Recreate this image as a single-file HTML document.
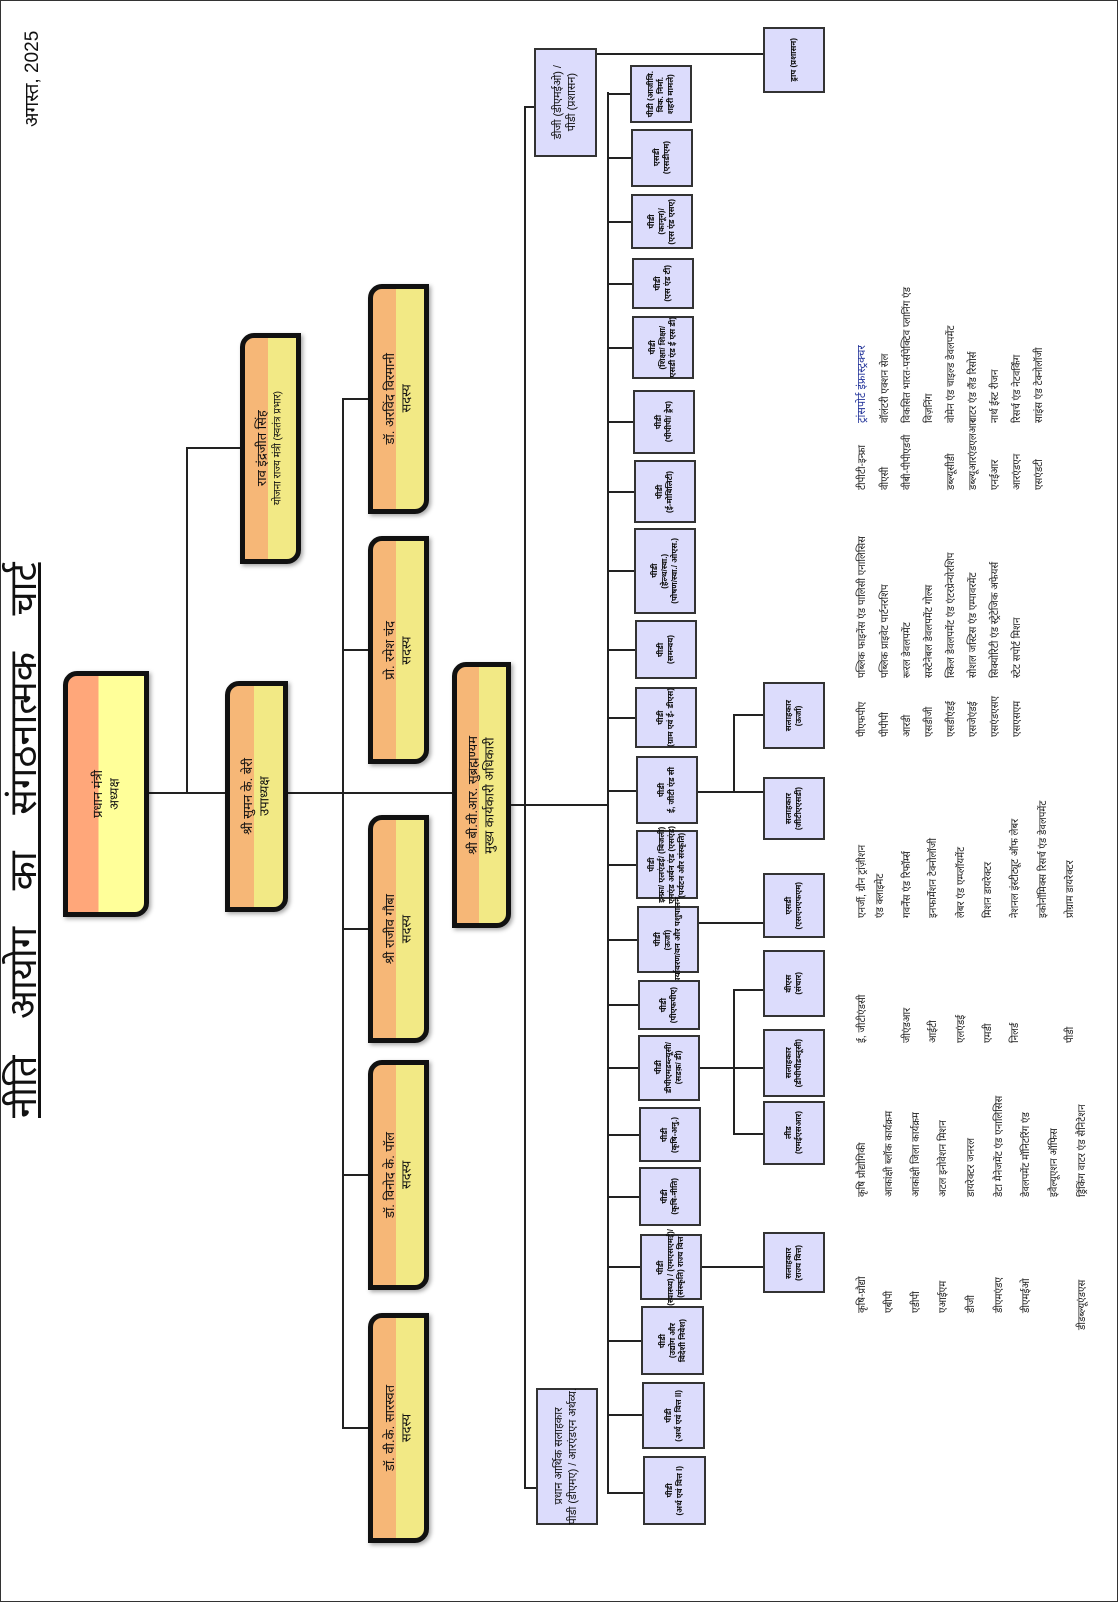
<!DOCTYPE html>
<html><head><meta charset="utf-8">
<style>
html,body{margin:0;padding:0;background:#fff;}
body{width:1119px;height:1603px;position:relative;overflow:hidden;font-family:"Liberation Sans","Noto Sans Devanagari","Lohit Devanagari","Mangal","FreeSans",sans-serif;color:#111;}
.frame{position:absolute;left:0;top:0;width:1116px;height:1600px;border:1.5px solid #333;}
.bx{position:absolute;display:flex;align-items:center;justify-content:center;box-sizing:border-box;}
.t{writing-mode:vertical-rl;transform:rotate(180deg);text-align:center;line-height:1.25;white-space:nowrap;}
.o{border:5px solid #111;border-radius:14px 0 14px 0;background:linear-gradient(to right,#f6b777 0 45%,#f2e985 45%);box-shadow:2px 2px 4px rgba(0,0,0,.35);font-size:13px;}
.b{border:2px solid #333;background:#dcdcfc;font-size:8px;font-weight:bold;}
.l{position:absolute;background:#222;}
.r{position:absolute;transform-origin:0 0;transform:rotate(-90deg);white-space:nowrap;font-size:10px;line-height:11px;color:#222;}
</style></head><body>
<div class="frame"></div>

<!-- Title & date -->
<div class="r" style="left:4px;top:1118px;font-size:38px;line-height:40px;word-spacing:26px;text-decoration:underline;color:#111;">नीति आयोग का संगठनात्मक चार्ट</div>
<div class="r" style="left:22px;top:127px;font-size:19px;line-height:21px;color:#111;">अगस्त, 2025</div>

<!-- connectors top tree -->
<div class="l" style="left:149px;top:792px;width:303px;height:2px;"></div>
<div class="l" style="left:186px;top:448px;width:2px;height:346px;"></div>
<div class="l" style="left:186px;top:447px;width:54px;height:2px;"></div>
<div class="l" style="left:342px;top:399px;width:2px;height:1030px;"></div>
<div class="l" style="left:342px;top:398px;width:26px;height:2px;"></div>
<div class="l" style="left:342px;top:649px;width:26px;height:2px;"></div>
<div class="l" style="left:342px;top:928px;width:26px;height:2px;"></div>
<div class="l" style="left:342px;top:1174px;width:26px;height:2px;"></div>
<div class="l" style="left:342px;top:1427px;width:26px;height:2px;"></div>

<!-- orange boxes -->
<div class="bx o" style="left:63px;top:671px;width:86px;height:246px;background:linear-gradient(to right,#ffa77a 0 40%,#ffff99 40%);"><div class="t">प्रधान मंत्री<br>अध्यक्ष</div></div>
<div class="bx o" style="left:225px;top:681px;width:63px;height:231px;"><div class="t">श्री सुमन के. बेरी<br>उपाध्यक्ष</div></div>
<div class="bx o" style="left:240px;top:333px;width:61px;height:231px;"><div class="t">राव इंद्रजीत सिंह<br><span style="font-size:10px">योजना राज्य मंत्री (स्वतंत्र प्रभार)</span></div></div>
<div class="bx o" style="left:368px;top:284px;width:61px;height:230px;"><div class="t">डॉ. अरविंद विरमानी<br>सदस्य</div></div>
<div class="bx o" style="left:368px;top:536px;width:61px;height:228px;"><div class="t">प्रो. रमेश चंद<br>सदस्य</div></div>
<div class="bx o" style="left:368px;top:815px;width:61px;height:228px;"><div class="t">श्री राजीव गौबा<br>सदस्य</div></div>
<div class="bx o" style="left:368px;top:1060px;width:61px;height:230px;"><div class="t">डॉ. विनोद के. पॉल<br>सदस्य</div></div>
<div class="bx o" style="left:368px;top:1313px;width:61px;height:230px;"><div class="t">डॉ. वी.के. सारस्वत<br>सदस्य</div></div>
<div class="bx o" style="left:452px;top:662px;width:59px;height:266px;"><div class="t">श्री बी.वी.आर. सुब्रह्मण्यम<br>मुख्य कार्यकारी अधिकारी</div></div>

<!-- CEO connectors -->
<div class="l" style="left:511px;top:804px;width:98px;height:2px;"></div>
<div class="l" style="left:524px;top:107px;width:2px;height:1382px;"></div>
<div class="l" style="left:524px;top:106px;width:11px;height:2px;"></div>
<div class="l" style="left:524px;top:1487px;width:12px;height:2px;"></div>
<div class="l" style="left:597px;top:53px;width:166px;height:2px;"></div>
<div class="l" style="left:607px;top:92px;width:2px;height:1402px;"></div>

<div class="bx b" style="left:534px;top:48px;width:63px;height:109px;font-size:11px;font-weight:normal;"><div class="t">डीजी (डीएमईओ) /<br>पीडी (प्रशासन)</div></div>
<div class="bx b" style="left:763px;top:27px;width:62px;height:66px;"><div class="t">ड्राप (प्रशासन)</div></div>
<div class="bx b" style="left:536px;top:1388px;width:62px;height:137px;font-size:11px;font-weight:normal;"><div class="t">प्रधान आर्थिक सलाहकार<br>पीडी (डीएमए) / आरएंडएन अर्थव्य.</div></div>

<!-- column boxes -->
<div class="l" style="left:607px;top:93px;width:24px;height:2px;"></div>
<div class="bx b" style="left:630px;top:65px;width:62px;height:58px;"><div class="t">पीडी (आजीवि.<br>विक. निर्मा.<br>शहरी मामले)</div></div>
<div class="l" style="left:607px;top:157px;width:24px;height:2px;"></div>
<div class="bx b" style="left:631px;top:129px;width:62px;height:58px;"><div class="t">एसडी<br>(एसडीएम)</div></div>
<div class="l" style="left:607px;top:221px;width:25px;height:2px;"></div>
<div class="bx b" style="left:631px;top:194px;width:62px;height:55px;"><div class="t">पीडी<br>(कानून)/<br>(एस एंड एसए)</div></div>
<div class="l" style="left:607px;top:283px;width:25px;height:2px;"></div>
<div class="bx b" style="left:632px;top:258px;width:62px;height:51px;"><div class="t">पीडी<br>(एस एंड टी)</div></div>
<div class="l" style="left:607px;top:347px;width:26px;height:2px;"></div>
<div class="bx b" style="left:632px;top:316px;width:62px;height:63px;"><div class="t">पीडी<br>(शिक्षा/ शिक्षा/<br>एसडी एंड ई एस डी)</div></div>
<div class="l" style="left:607px;top:421px;width:26px;height:2px;"></div>
<div class="bx b" style="left:633px;top:390px;width:62px;height:64px;"><div class="t">पीडी<br>(पीपीपी/ ड्रेप)</div></div>
<div class="l" style="left:607px;top:491px;width:27px;height:2px;"></div>
<div class="bx b" style="left:634px;top:460px;width:62px;height:63px;"><div class="t">पीडी<br>(ई-मोबिलिटी)</div></div>
<div class="l" style="left:607px;top:570px;width:27px;height:2px;"></div>
<div class="bx b" style="left:634px;top:528px;width:62px;height:86px;"><div class="t">पीडी<br>(हेल्थ/स्वा.)<br>(पोषण/स्वा./ ओएस.)</div></div>
<div class="l" style="left:607px;top:649px;width:28px;height:2px;"></div>
<div class="bx b" style="left:635px;top:620px;width:62px;height:59px;"><div class="t">पीडी<br>(समन्वय)</div></div>
<div class="l" style="left:607px;top:717px;width:28px;height:2px;"></div>
<div class="bx b" style="left:635px;top:687px;width:62px;height:61px;"><div class="t">पीडी<br>(ग्राम एवं ई- डीएस)</div></div>
<div class="l" style="left:607px;top:790px;width:29px;height:2px;"></div>
<div class="bx b" style="left:636px;top:756px;width:62px;height:68px;"><div class="t">पीडी<br>ई, जीटी एंड सी</div></div>
<div class="l" style="left:607px;top:864px;width:29px;height:2px;"></div>
<div class="bx b" style="left:636px;top:830px;width:62px;height:69px;"><div class="t">पीडी<br>इन्फ्रा/ एलएंडई/ (बिजली)<br>एमएंड अर्बन एंड (एसएंड)<br>(पर्यटन और संस्कृति)</div></div>
<div class="l" style="left:607px;top:939px;width:30px;height:2px;"></div>
<div class="bx b" style="left:637px;top:906px;width:62px;height:67px;"><div class="t">पीडी<br>(ऊर्जा)<br>पर्यावरण/वन और पशुपालन</div></div>
<div class="l" style="left:607px;top:1004px;width:31px;height:2px;"></div>
<div class="bx b" style="left:638px;top:980px;width:62px;height:50px;"><div class="t">पीडी<br>(पीएफपीए)</div></div>
<div class="l" style="left:607px;top:1067px;width:31px;height:2px;"></div>
<div class="bx b" style="left:638px;top:1035px;width:62px;height:66px;"><div class="t">पीडी<br>डीपीएमडब्ल्यूसी/<br>(सडक़/ डी)</div></div>
<div class="l" style="left:607px;top:1134px;width:32px;height:2px;"></div>
<div class="bx b" style="left:639px;top:1107px;width:62px;height:55px;"><div class="t">पीडी<br>(कृषि-अनु.)</div></div>
<div class="l" style="left:607px;top:1196px;width:32px;height:2px;"></div>
<div class="bx b" style="left:639px;top:1167px;width:62px;height:59px;"><div class="t">पीडी<br>(कृषि-नीति)</div></div>
<div class="l" style="left:607px;top:1266px;width:33px;height:2px;"></div>
<div class="bx b" style="left:640px;top:1234px;width:62px;height:66px;"><div class="t">पीडी<br>(स्वास्थ्य) / (एमएसएमई)/<br>(संस्कृति) राज्य वित्त</div></div>
<div class="l" style="left:607px;top:1340px;width:34px;height:2px;"></div>
<div class="bx b" style="left:641px;top:1306px;width:63px;height:69px;"><div class="t">पीडी<br>(उद्योग और<br>विदेशी निवेश)</div></div>
<div class="l" style="left:607px;top:1414px;width:35px;height:2px;"></div>
<div class="bx b" style="left:642px;top:1382px;width:63px;height:67px;"><div class="t">पीडी<br>(अर्थ एवं वित्त II)</div></div>
<div class="l" style="left:607px;top:1492px;width:36px;height:2px;"></div>
<div class="bx b" style="left:643px;top:1456px;width:63px;height:69px;"><div class="t">पीडी<br>(अर्थ एवं वित्त I)</div></div>

<!-- right children -->
<div class="l" style="left:698px;top:791px;width:65px;height:2px;"></div>
<div class="l" style="left:733px;top:715px;width:2px;height:77px;"></div>
<div class="l" style="left:733px;top:714px;width:30px;height:2px;"></div>
<div class="bx b" style="left:763px;top:682px;width:62px;height:67px;"><div class="t">सलाहकार<br>(ऊर्जा)</div></div>
<div class="bx b" style="left:763px;top:777px;width:62px;height:63px;"><div class="t">सलाहकार<br>(जीटीएएसडी)</div></div>

<div class="l" style="left:699px;top:922px;width:64px;height:2px;"></div>
<div class="bx b" style="left:763px;top:873px;width:62px;height:65px;"><div class="t">एसडी<br>(एसएनएफएम)</div></div>

<div class="l" style="left:700px;top:1067px;width:63px;height:2px;"></div>
<div class="l" style="left:733px;top:990px;width:2px;height:144px;"></div>
<div class="l" style="left:733px;top:989px;width:30px;height:2px;"></div>
<div class="l" style="left:733px;top:1133px;width:30px;height:2px;"></div>
<div class="bx b" style="left:763px;top:950px;width:62px;height:67px;"><div class="t">वीएस<br>(संचार)</div></div>
<div class="bx b" style="left:763px;top:1029px;width:62px;height:68px;"><div class="t">सलाहकार<br>(डीपीपीडब्लूसी)</div></div>
<div class="bx b" style="left:763px;top:1101px;width:62px;height:64px;"><div class="t">लीड<br>(एमईएसआर)</div></div>

<div class="l" style="left:702px;top:1266px;width:61px;height:2px;"></div>
<div class="bx b" style="left:763px;top:1232px;width:62px;height:61px;"><div class="t">सलाहकार<br>(राज्य वित्त)</div></div>

<!-- Legend group 1 -->
<div class="r" style="left:857px;top:1313px;">कृषि-प्रौद्यो</div>
<div class="r" style="left:884px;top:1313px;">एबीपी</div>
<div class="r" style="left:911px;top:1313px;">एडीपी</div>
<div class="r" style="left:938px;top:1313px;">एआईएम</div>
<div class="r" style="left:966px;top:1313px;">डीजी</div>
<div class="r" style="left:994px;top:1313px;">डीएमएंडए</div>
<div class="r" style="left:1021px;top:1313px;">डीएमईओ</div>
<div class="r" style="left:1077px;top:1330px;">डीडब्ल्यूएंडएस</div>
<div class="r" style="left:857px;top:1197px;">कृषि प्रौद्योगिकी</div>
<div class="r" style="left:884px;top:1197px;">आकांक्षी ब्लॉक कार्यक्रम</div>
<div class="r" style="left:911px;top:1197px;">आकांक्षी जिला कार्यक्रम</div>
<div class="r" style="left:938px;top:1197px;">अटल इनोवेशन मिशन</div>
<div class="r" style="left:966px;top:1197px;">डायरेक्टर जनरल</div>
<div class="r" style="left:994px;top:1197px;">डेटा मैनेजमेंट एंड एनालिसिस</div>
<div class="r" style="left:1021px;top:1197px;">डेवलपमेंट मॉनिटरिंग एंड</div>
<div class="r" style="left:1049px;top:1197px;">इवैल्यूएशन ऑफिस</div>
<div class="r" style="left:1077px;top:1197px;">ड्रिंकिंग वाटर एंड सैनिटेशन</div>

<!-- Legend group 2 -->
<div class="r" style="left:857px;top:1043px;">ई, जीटीएंडसी</div>
<div class="r" style="left:902px;top:1043px;">जीएंडआर</div>
<div class="r" style="left:928px;top:1043px;">आईटी</div>
<div class="r" style="left:956px;top:1043px;">एलएंडई</div>
<div class="r" style="left:983px;top:1043px;">एमडी</div>
<div class="r" style="left:1010px;top:1043px;">निलर्ड</div>
<div class="r" style="left:1065px;top:1043px;">पीडी</div>
<div class="r" style="left:857px;top:918px;">एनर्जी, ग्रीन ट्रांज़ीशन</div>
<div class="r" style="left:875px;top:918px;">एंड क्लाइमेट</div>
<div class="r" style="left:902px;top:918px;">गवर्नेंस एंड रिफॉर्म्स</div>
<div class="r" style="left:928px;top:918px;">इनफार्मेशन टेक्नोलॉजी</div>
<div class="r" style="left:956px;top:918px;">लेबर एंड एम्प्लॉयमेंट</div>
<div class="r" style="left:983px;top:918px;">मिशन डायरेक्टर</div>
<div class="r" style="left:1010px;top:918px;">नेशनल इंस्टीट्यूट ऑफ लेबर</div>
<div class="r" style="left:1038px;top:918px;">इकोनॉमिक्स रिसर्च एंड डेवलपमेंट</div>
<div class="r" style="left:1065px;top:918px;">प्रोग्राम डायरेक्टर</div>

<!-- Legend group 3 -->
<div class="r" style="left:857px;top:737px;">पीएफपीए</div>
<div class="r" style="left:880px;top:737px;">पीपीपी</div>
<div class="r" style="left:902px;top:737px;">आरडी</div>
<div class="r" style="left:924px;top:737px;">एसडीजी</div>
<div class="r" style="left:946px;top:737px;">एसडीएंडई</div>
<div class="r" style="left:968px;top:737px;">एसजेएंडई</div>
<div class="r" style="left:990px;top:737px;">एसएंडएसए</div>
<div class="r" style="left:1012px;top:737px;">एसएसएम</div>
<div class="r" style="left:857px;top:678px;">पब्लिक फाइनेंस एंड पालिसी एनालिसिस</div>
<div class="r" style="left:880px;top:678px;">पब्लिक प्राइवेट पार्टनरशिप</div>
<div class="r" style="left:902px;top:678px;">रूरल डेवलपमेंट</div>
<div class="r" style="left:924px;top:678px;">सस्टेनेबल डेवलपमेंट गोल्स</div>
<div class="r" style="left:946px;top:678px;">स्किल डेवलपमेंट एंड एंटरप्रेन्योरशिप</div>
<div class="r" style="left:968px;top:678px;">सोशल जस्टिस एंड एम्पावरमेंट</div>
<div class="r" style="left:990px;top:678px;">सिक्योरिटी एंड स्ट्रेटेजिक अफेयर्स</div>
<div class="r" style="left:1012px;top:678px;">स्टेट सपोर्ट मिशन</div>

<!-- Legend group 4 -->
<div class="r" style="left:857px;top:490px;">टीपीटी-इन्फ्रा</div>
<div class="r" style="left:880px;top:490px;">वीएसी</div>
<div class="r" style="left:902px;top:490px;">वीबी-पीपीएडवी</div>
<div class="r" style="left:946px;top:490px;">डब्ल्यूसीडी</div>
<div class="r" style="left:968px;top:490px;">डब्ल्यूआरएंडएलआर</div>
<div class="r" style="left:990px;top:490px;">एनईआर</div>
<div class="r" style="left:1012px;top:490px;">आरएंडएन</div>
<div class="r" style="left:1034px;top:490px;">एसएंडटी</div>
<div class="r" style="left:857px;top:423px;color:#223399;font-size:11px;">ट्रांसपोर्ट इंफ्रास्ट्रक्चर</div>
<div class="r" style="left:880px;top:423px;">वॉलंटरी एक्शन सेल</div>
<div class="r" style="left:902px;top:423px;">विकसित भारत-पर्सपेक्टिव प्लानिंग एंड</div>
<div class="r" style="left:924px;top:423px;">विज़निंग</div>
<div class="r" style="left:946px;top:423px;">वोमेन एंड चाइल्ड डेवलपमेंट</div>
<div class="r" style="left:968px;top:423px;">वाटर एंड लैंड रिसोर्स</div>
<div class="r" style="left:990px;top:423px;">नार्थ ईस्ट रीजन</div>
<div class="r" style="left:1012px;top:423px;">रिसर्च एंड नेटवर्किंग</div>
<div class="r" style="left:1034px;top:423px;">साइंस एंड टेक्नोलॉजी</div>
</body></html>
